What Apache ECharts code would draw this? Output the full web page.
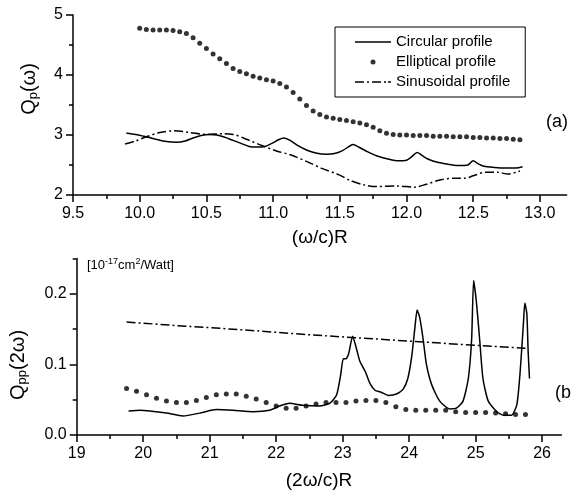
<!DOCTYPE html>
<html>
<head>
<meta charset="utf-8">
<script src="https://cdn.jsdelivr.net/npm/echarts@6/dist/echarts.min.js"></script>
<style>
html,body{margin:0;padding:0;background:#fff;}
#chart{width:571px;height:491px;}
</style>
</head>
<body>
<div id="chart"></div>
<script>
// ---------- data: panel (a) ----------
const topCircular = [
[9.90,3.03],[9.97,3.01],[10.05,2.97],[10.12,2.93],[10.20,2.89],[10.28,2.88],[10.34,2.90],[10.40,2.95],
[10.46,2.99],[10.52,3.01],[10.58,3.00],[10.64,2.96],[10.70,2.91],[10.76,2.86],[10.82,2.81],[10.88,2.80],
[10.94,2.81],[10.99,2.86],[11.04,2.92],[11.08,2.95],[11.12,2.92],[11.18,2.83],[11.25,2.75],[11.32,2.70],
[11.40,2.68],[11.46,2.69],[11.52,2.74],[11.57,2.81],[11.60,2.84],[11.64,2.80],[11.70,2.73],[11.78,2.65],
[11.86,2.60],[11.94,2.57],[12.00,2.58],[12.04,2.64],[12.08,2.71],[12.11,2.67],[12.16,2.60],[12.24,2.54],
[12.32,2.51],[12.40,2.49],[12.46,2.50],[12.50,2.57],[12.53,2.53],[12.58,2.48],[12.66,2.46],[12.74,2.45],
[12.82,2.45],[12.87,2.47]
];
const topElliptical = [
[10.00,4.78],[10.05,4.76],[10.10,4.75],[10.15,4.75],[10.20,4.75],[10.25,4.74],[10.30,4.72],[10.35,4.69],
[10.40,4.62],[10.45,4.53],[10.50,4.44],[10.55,4.35],[10.60,4.27],[10.65,4.19],[10.70,4.11],[10.75,4.06],
[10.80,4.02],[10.85,3.98],[10.90,3.95],[10.95,3.92],[11.00,3.90],[11.05,3.86],[11.10,3.80],[11.15,3.71],
[11.20,3.60],[11.25,3.49],[11.30,3.40],[11.35,3.34],[11.40,3.30],[11.45,3.28],[11.50,3.26],[11.55,3.24],
[11.60,3.22],[11.65,3.20],[11.70,3.17],[11.75,3.13],[11.80,3.07],[11.85,3.03],[11.90,3.01],[11.95,3.00],
[12.00,3.00],[12.05,2.99],[12.10,2.99],[12.15,2.99],[12.20,2.98],[12.25,2.98],[12.30,2.98],[12.35,2.97],
[12.40,2.97],[12.45,2.97],[12.50,2.96],[12.55,2.96],[12.60,2.95],[12.65,2.95],[12.70,2.94],[12.75,2.94],
[12.80,2.93],[12.85,2.92]
];
const topSinusoidal = [
[9.89,2.85],[9.97,2.90],[10.05,2.97],[10.15,3.04],[10.26,3.07],[10.38,3.04],[10.50,3.01],[10.62,3.02],
[10.70,3.01],[10.80,2.93],[10.92,2.82],[11.03,2.73],[11.13,2.67],[11.25,2.56],[11.37,2.44],[11.49,2.34],
[11.58,2.24],[11.68,2.17],[11.77,2.14],[11.93,2.15],[12.06,2.13],[12.15,2.18],[12.25,2.25],[12.35,2.28],
[12.44,2.28],[12.50,2.32],[12.59,2.38],[12.68,2.38],[12.76,2.35],[12.85,2.40]
];
// ---------- data: panel (b) ----------
const botCircular = [
[19.78,0.034],[19.95,0.035],[20.10,0.034],[20.35,0.031],[20.60,0.027],[20.85,0.031],[21.10,0.036],[21.35,0.035],
[21.65,0.033],[21.90,0.035],[22.05,0.041],[22.20,0.045],[22.40,0.042],[22.65,0.041],[22.81,0.045],[22.91,0.057],
[22.97,0.085],[23.01,0.108],[23.05,0.108],[23.09,0.115],[23.15,0.140],[23.20,0.125],[23.26,0.104],[23.34,0.090],
[23.41,0.073],[23.49,0.063],[23.57,0.061],[23.69,0.056],[23.81,0.058],[23.91,0.065],[23.98,0.080],[24.04,0.112],
[24.09,0.155],[24.12,0.177],[24.16,0.166],[24.21,0.136],[24.26,0.100],[24.34,0.071],[24.46,0.048],[24.61,0.037],
[24.71,0.038],[24.81,0.048],[24.89,0.080],[24.94,0.136],[24.97,0.219],[25.01,0.190],[25.06,0.136],[25.11,0.080],
[25.19,0.048],[25.32,0.033],[25.42,0.028],[25.54,0.028],[25.62,0.043],[25.67,0.090],[25.72,0.160],[25.74,0.187],
[25.77,0.172],[25.79,0.118],[25.81,0.080]
];
const botElliptical = [
[19.75,0.066],[19.90,0.062],[20.05,0.057],[20.20,0.052],[20.35,0.048],[20.50,0.046],[20.65,0.046],[20.80,0.049],
[20.95,0.053],[21.10,0.057],[21.25,0.058],[21.40,0.058],[21.55,0.055],[21.70,0.051],[21.85,0.046],[22.00,0.041],
[22.15,0.038],[22.30,0.038],[22.45,0.041],[22.60,0.044],[22.75,0.046],[22.90,0.046],[23.05,0.046],[23.20,0.048],
[23.35,0.049],[23.50,0.049],[23.65,0.046],[23.80,0.040],[23.95,0.036],[24.10,0.035],[24.25,0.035],[24.40,0.035],
[24.55,0.035],[24.70,0.033],[24.85,0.032],[25.00,0.032],[25.15,0.032],[25.30,0.031],[25.45,0.030],[25.60,0.029],
[25.75,0.029]
];
const botSinusoidal = [
[19.75,0.160],[20.50,0.155],[21.50,0.149],[22.50,0.142],[23.50,0.136],[24.50,0.130],[25.00,0.127],[25.75,0.123]
];
// ---------- ticks ----------
const topXMajor = [9.5,10.0,10.5,11.0,11.5,12.0,12.5,13.0];
const topXMinor = [9.75,10.25,10.75,11.25,11.75,12.25,12.75];
const topYMajor = [2,3,4,5];
const topYMinor = [2.5,3.5,4.5];
const botXMajor = [19,20,21,22,23,24,25,26];
const botXMinor = [19.5,20.5,21.5,22.5,23.5,24.5,25.5];
const botYMajor = [0.0,0.1,0.2];
const botYMinor = [0.05,0.15,0.25];
const seriesNames = ['Circular profile','Elliptical profile','Sinusoidal profile'];

const FONT = 'Liberation Sans, Arial, Helvetica, sans-serif';
const K = '#000';

function majorAxis(opts){
  return Object.assign({
    type:'value',
    axisLine:{show:true,onZero:false,lineStyle:{color:K,width:1.5}},
    axisTick:{show:true,inside:false,length:7,lineStyle:{color:K,width:1.5}},
    axisLabel:{show:true,color:K,fontFamily:FONT,fontSize:16},
    splitLine:{show:false},
    minorTick:{show:false}
  }, opts);
}
function minorAxis(opts, vals){
  return Object.assign({
    type:'value',
    axisLine:{show:false,onZero:false},
    axisTick:{show:true,inside:false,length:4,lineStyle:{color:K,width:1.5},customValues:vals},
    axisLabel:{show:false},
    splitLine:{show:false}
  }, opts);
}
const nameRich = {
  m:{fontFamily:FONT,fontSize:20,lineHeight:22,fill:K},
  s:{fontFamily:FONT,fontSize:13,lineHeight:13,verticalAlign:'bottom',fill:K}
};

const chart = echarts.init(document.getElementById('chart'), null, {renderer:'canvas'});
chart.setOption({
  backgroundColor:'#fff',
  animation:false,
  textStyle:{fontFamily:FONT,color:K},
  grid:[
    {left:73, top:15, width:493.6, height:180},
    {left:76.7, top:258.5, width:484.7, height:179.2}
  ],
  xAxis:[
    majorAxis({gridIndex:0,position:'bottom',min:9.5,max:13.2,
      axisTick:{show:true,length:7,lineStyle:{color:K,width:1.5},customValues:topXMajor},
      axisLabel:{show:true,color:K,fontFamily:FONT,fontSize:16,margin:11,customValues:topXMajor,formatter:v=>v.toFixed(1)},
      name:'(ω/c)R',nameLocation:'middle',nameGap:33,
      nameTextStyle:{fontFamily:FONT,fontSize:19,color:K}}),
    minorAxis({gridIndex:0,position:'bottom',min:9.5,max:13.2}, topXMinor),
    majorAxis({gridIndex:1,position:'bottom',min:19,max:26.29,
      axisTick:{show:true,length:7,lineStyle:{color:K,width:1.5},customValues:botXMajor},
      axisLabel:{show:true,color:K,fontFamily:FONT,fontSize:16,margin:11,customValues:botXMajor,formatter:v=>String(Math.round(v))},
      name:'(2ω/c)R',nameLocation:'middle',nameGap:36,
      nameTextStyle:{fontFamily:FONT,fontSize:19,color:K}}),
    minorAxis({gridIndex:1,position:'bottom',min:19,max:26.29}, botXMinor)
  ],
  yAxis:[
    majorAxis({gridIndex:0,position:'left',min:2,max:5,
      axisTick:{show:true,length:7,lineStyle:{color:K,width:1.5},customValues:topYMajor},
      axisLabel:{show:true,color:K,fontFamily:FONT,fontSize:16,margin:10,customValues:topYMajor,formatter:v=>String(Math.round(v))}}),
    minorAxis({gridIndex:0,position:'left',min:2,max:5}, topYMinor),
    majorAxis({gridIndex:1,position:'left',min:0,max:0.25,
      axisTick:{show:true,length:7,lineStyle:{color:K,width:1.5},customValues:botYMajor},
      axisLabel:{show:true,color:K,fontFamily:FONT,fontSize:16,margin:10,customValues:botYMajor,formatter:v=>v.toFixed(1)}}),
    minorAxis({gridIndex:1,position:'left',min:0,max:0.25}, botYMinor)
  ],
  legend:{
    orient:'vertical', left:335, top:27,
    padding:[7.5,15,7.5,20],
    itemWidth:36, itemHeight:5, itemGap:5,
    borderColor:K, borderWidth:1, borderRadius:0,
    selectedMode:false,
    itemStyle:{color:K,borderWidth:0},
    textStyle:{fontFamily:FONT,fontSize:15,color:K,lineHeight:15},
    data:[
      {name:seriesNames[0], icon:'path://M0,0h36v1.6h-36z'},
      {name:seriesNames[1], icon:'circle'},
      {name:seriesNames[2], icon:'path://M0,0h9v1.6h-9zM12,0h2v1.6h-2zM17,0h9v1.6h-9zM29,0h2v1.6h-2zM33,0h3v1.6h-3z'}
    ]
  },
  graphic:[
    {type:'text', x:29, y:89, rotation:Math.PI/2,
      style:{text:'{m|Q}{s|p}{m|(ω)}', align:'center', verticalAlign:'middle', fill:K, rich:nameRich}},
    {type:'text', x:18, y:365, rotation:Math.PI/2,
      style:{text:'{m|Q}{s|pp}{m|(2ω)}', align:'center', verticalAlign:'middle', fill:K, rich:nameRich}},
    {type:'text', x:87, y:265,
      style:{text:'{m|[10}{u|-17}{m|cm}{u|2}{m|/Watt]}', align:'left', verticalAlign:'middle', fill:K,
        rich:{m:{fontFamily:FONT,fontSize:13,lineHeight:16,fill:K}, u:{fontFamily:FONT,fontSize:9,lineHeight:10,verticalAlign:'top',fill:K}}}},
    {type:'text', x:546, y:122, style:{text:'(a)', fontFamily:FONT, fontSize:18, fill:K, align:'left', verticalAlign:'middle'}},
    {type:'text', x:555, y:393, style:{text:'(b)', fontFamily:FONT, fontSize:18, fill:K, align:'left', verticalAlign:'middle'}}
  ],
  series:[
    {name:seriesNames[0], type:'line', xAxisIndex:0, yAxisIndex:0, data:topCircular, symbol:'none', smooth:0.3,
      lineStyle:{color:K,width:1.5}, itemStyle:{color:K}},
    {name:seriesNames[1], type:'scatter', xAxisIndex:0, yAxisIndex:0, data:topElliptical, symbol:'circle', symbolSize:5,
      itemStyle:{color:K}},
    {name:seriesNames[2], type:'line', xAxisIndex:0, yAxisIndex:0, data:topSinusoidal, symbol:'none', smooth:0.3,
      lineStyle:{color:K,width:1.5,type:[9,3,2,3]}, itemStyle:{color:K}},
    {name:seriesNames[0], type:'line', xAxisIndex:2, yAxisIndex:2, data:botCircular, symbol:'none', smooth:0.2,
      lineStyle:{color:K,width:1.5}, itemStyle:{color:K}},
    {name:seriesNames[1], type:'scatter', xAxisIndex:2, yAxisIndex:2, data:botElliptical, symbol:'circle', symbolSize:5,
      itemStyle:{color:K}},
    {name:seriesNames[2], type:'line', xAxisIndex:2, yAxisIndex:2, data:botSinusoidal, symbol:'none', smooth:false,
      lineStyle:{color:K,width:1.5,type:[9,3,2,3]}, itemStyle:{color:K}}
  ]
});
</script>
</body>
</html>
